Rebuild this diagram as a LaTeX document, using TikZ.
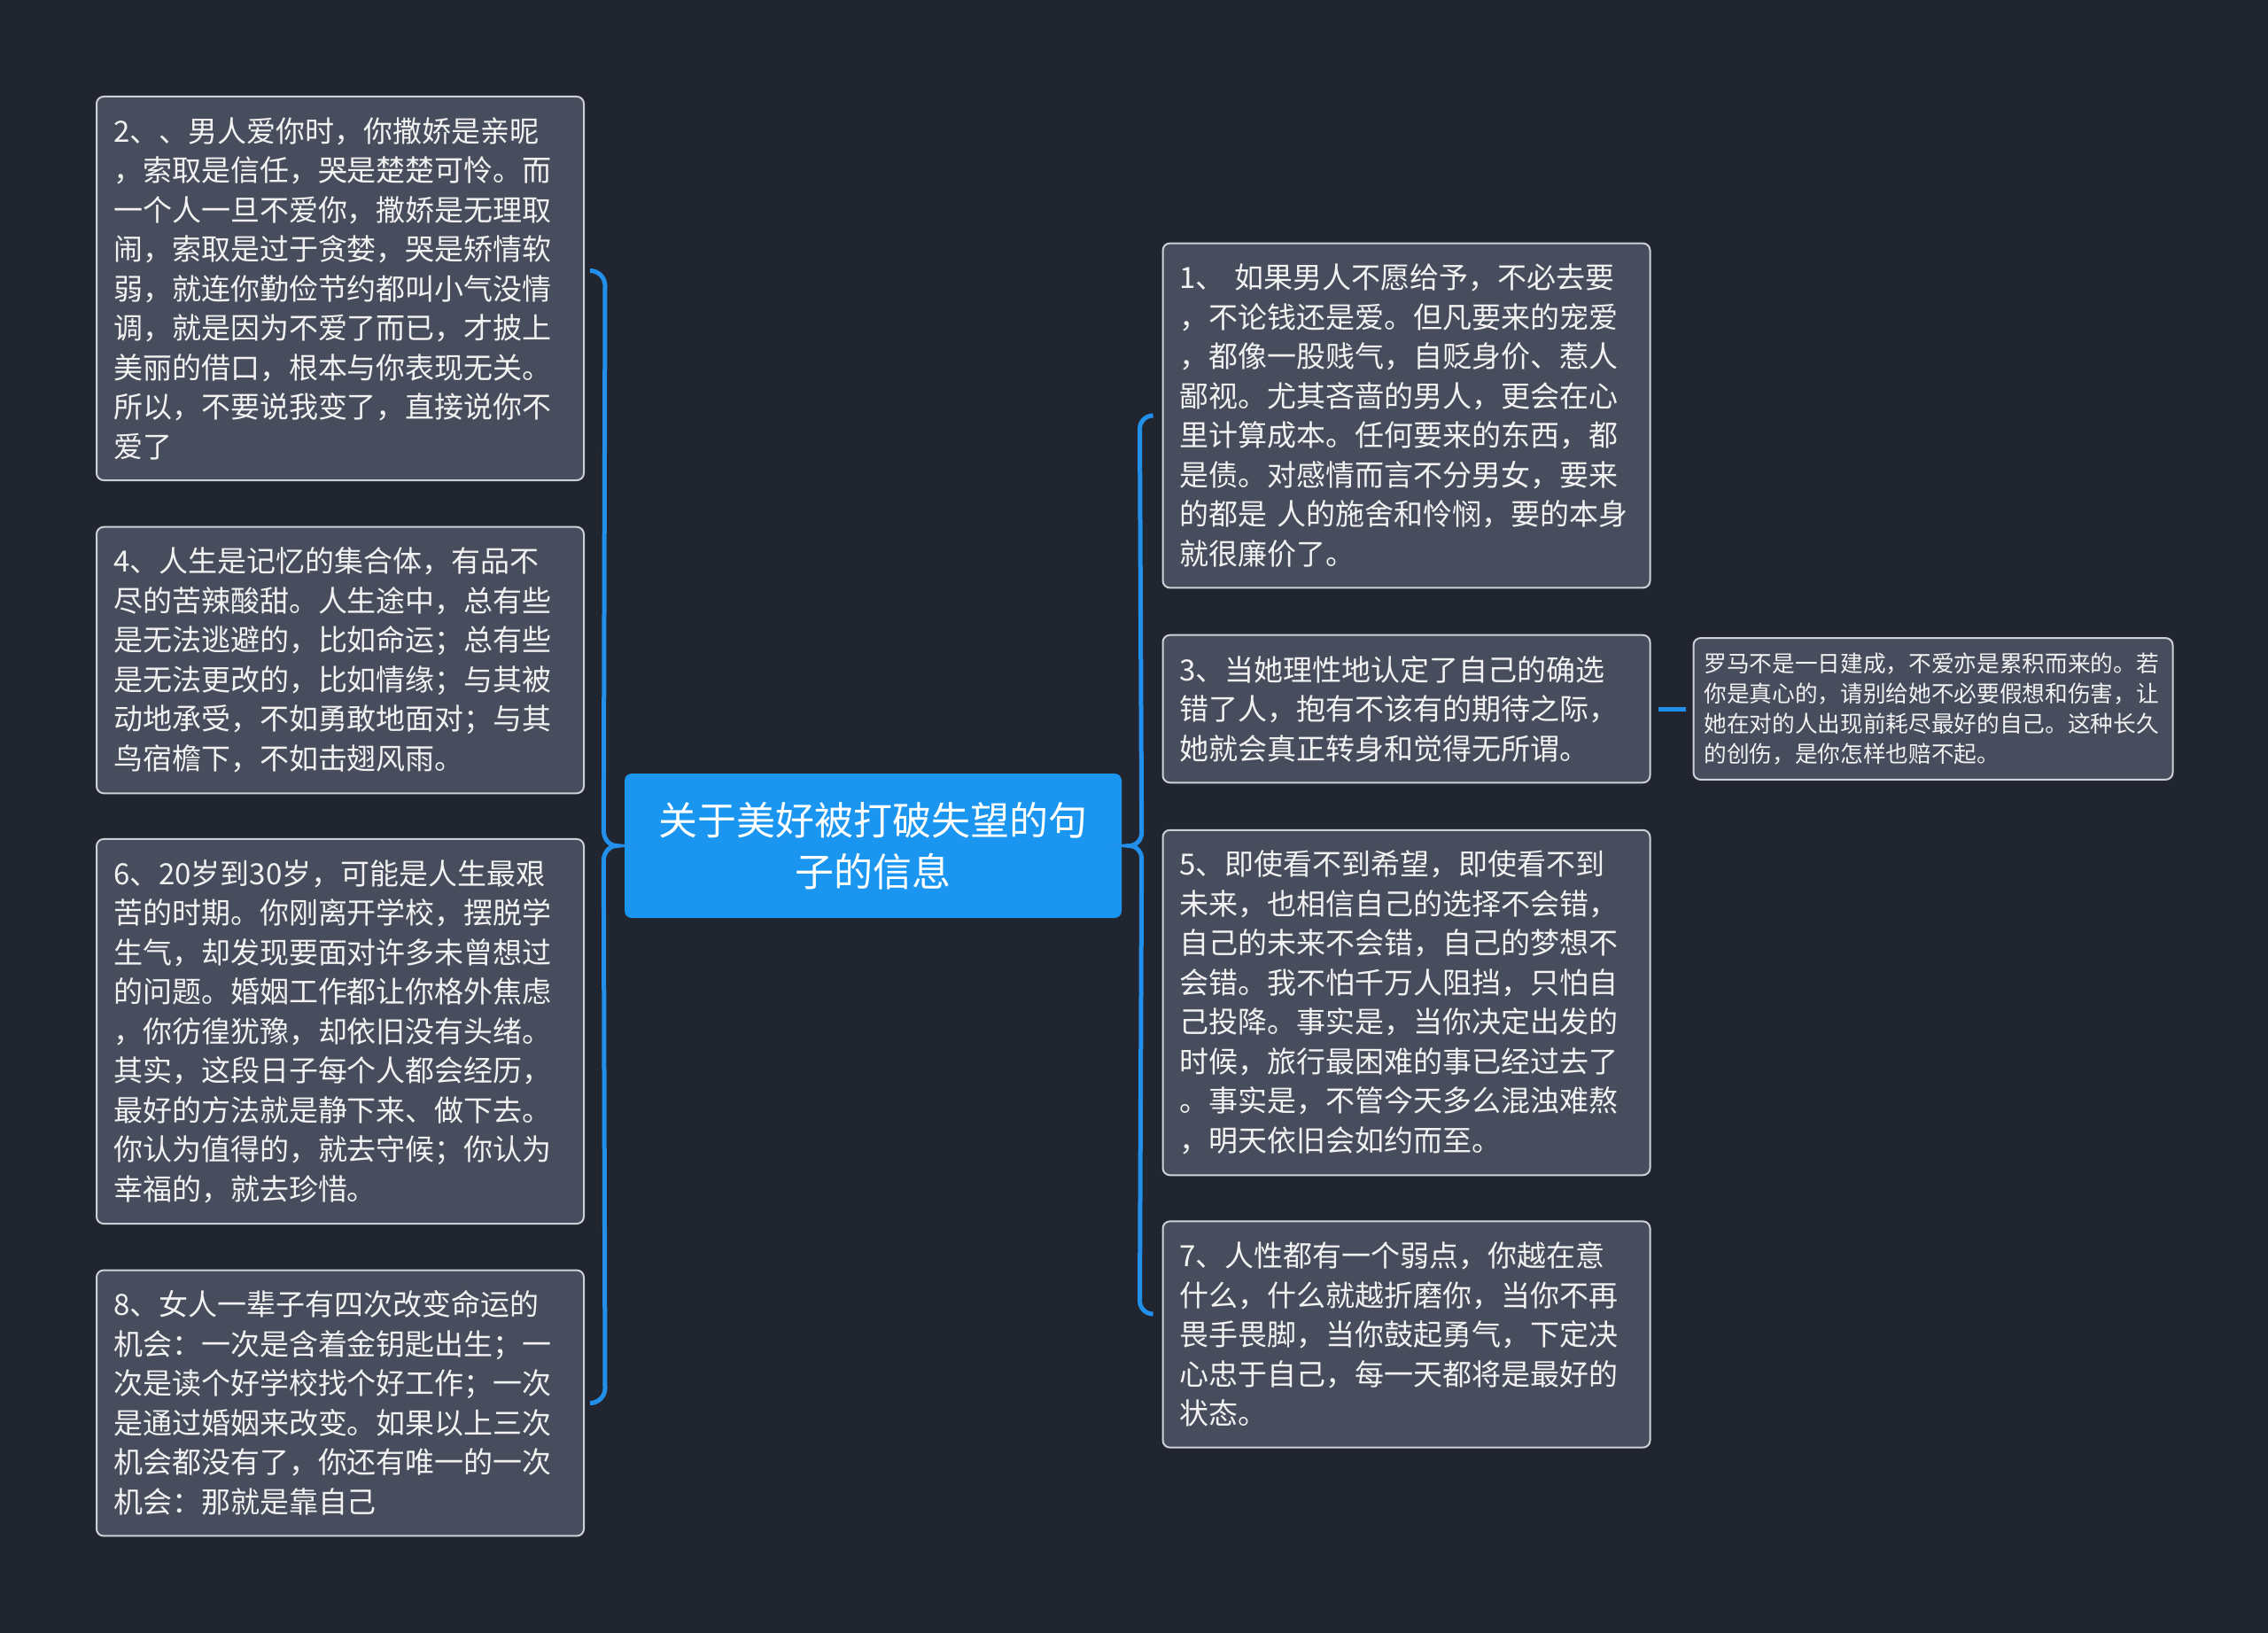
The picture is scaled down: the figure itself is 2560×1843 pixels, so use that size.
\documentclass[tikz,border=0pt]{standalone}
\usepackage{fontspec}
\setmainfont{Noto Sans CJK SC}
\usepackage{xcolor}
\usepackage{tikz}
\usetikzlibrary{positioning,calc}
\definecolor{bgdark}{RGB}{33,37,48}
\definecolor{leafgray}{RGB}{71,77,92}
\definecolor{leafedge}{RGB}{205,208,214}
\definecolor{topicblue}{RGB}{26,150,240}
\definecolor{braceblue}{RGB}{34,144,234}
\definecolor{textwhite}{RGB}{242,242,242}
\tikzset{
  topicbox/.style={fill=topicblue, rounded corners=2.4pt,
    minimum width=168.3pt, minimum height=48.9pt, text width=152pt,
    align=center, text=white, font=\fontsize{13.2}{17.4}\selectfont},
  leafbox/.style={draw=leafedge, line width=0.6pt, fill=leafgray, rounded corners=2.4pt,
    text width=153.6pt, inner xsep=5.7pt, inner ysep=7pt, align=left,
    text=textwhite, font=\fontsize{9.9}{13.35}\selectfont},
  notebox/.style={leafbox, text width=155.1pt, inner xsep=3.6pt, inner ysep=5pt,
    font=\fontsize{7.7}{10.2}\selectfont},
  brace/.style={draw=braceblue, line width=1.5pt},
  link/.style={draw=braceblue, line width=1.5pt, shorten <=2.4pt, shorten >=2.4pt}
}

\begin{document}
\begin{tikzpicture}[x=0.3pt, y=-0.3pt, node distance=14.1pt]
\fill[bgdark] (0,0) rectangle (2560,1843);

\node[topicbox] (topic) at (985.5,954.5) {关于美好被打破失望的句\\子的信息};

% left side
\node[leafbox] (b2) at (384,325.5) {2、、男人爱你时，你撒娇是亲昵\\，索取是信任，哭是楚楚可怜。而\\一个人一旦不爱你，撒娇是无理取\\闹，索取是过于贪婪，哭是矫情软\\弱，就连你勤俭节约都叫小气没情\\调，就是因为不爱了而已，才披上\\美丽的借口，根本与你表现无关。\\所以，不要说我变了，直接说你不\\爱了};
\node[leafbox] (b4) at (384,745) {4、人生是记忆的集合体，有品不\\尽的苦辣酸甜。人生途中，总有些\\是无法逃避的，比如命运；总有些\\是无法更改的，比如情缘；与其被\\动地承受，不如勇敢地面对；与其\\鸟宿檐下，不如击翅风雨。};
\node[leafbox] (b6) at (384,1164) {6、20岁到30岁，可能是人生最艰\\苦的时期。你刚离开学校，摆脱学\\生气，却发现要面对许多未曾想过\\的问题。婚姻工作都让你格外焦虑\\，你彷徨犹豫，却依旧没有头绪。\\其实，这段日子每个人都会经历，\\最好的方法就是静下来、做下去。\\你认为值得的，就去守候；你认为\\幸福的，就去珍惜。};
\node[leafbox] (b8) at (384,1583.5) {8、女人一辈子有四次改变命运的\\机会：一次是含着金钥匙出生；一\\次是读个好学校找个好工作；一次\\是通过婚姻来改变。如果以上三次\\机会都没有了，你还有唯一的一次\\机会：那就是靠自己};

% right side
\node[leafbox] (b1) at (1587.5,469) {1、 如果男人不愿给予，不必去要\\，不论钱还是爱。但凡要来的宠爱\\，都像一股贱气，自贬身价、惹人\\鄙视。尤其吝啬的男人，更会在心\\里计算成本。任何要来的东西，都\\是债。对感情而言不分男女，要来\\的都是 人的施舍和怜悯，要的本身\\就很廉价了。};
\node[leafbox] (b3) at (1587.5,800) {3、当她理性地认定了自己的确选\\错了人，抱有不该有的期待之际，\\她就会真正转身和觉得无所谓。};
\node[leafbox] (b5) at (1587.5,1131.5) {5、即使看不到希望，即使看不到\\未来，也相信自己的选择不会错，\\自己的未来不会错，自己的梦想不\\会错。我不怕千万人阻挡，只怕自\\己投降。事实是，当你决定出发的\\时候，旅行最困难的事已经过去了\\。事实是，不管今天多么混浊难熬\\，明天依旧会如约而至。};
\node[leafbox] (b7) at (1587.5,1506) {7、人性都有一个弱点，你越在意\\什么，什么就越折磨你，当你不再\\畏手畏脚，当你鼓起勇气，下定决\\心忠于自己，每一天都将是最好的\\状态。};
\node[notebox, right=of b3] (note) {罗马不是一日建成，不爱亦是累积而来的。若\\你是真心的，请别给她不必要假想和伤害，让\\她在对的人出现前耗尽最好的自己。这种长久\\的创伤，是你怎样也赔不起。};

% braces
\draw[brace] ($(b2.east)+(6,-20)$) to[out=0,in=90] ++(17,17)
  -- ($(topic.west)+(-23,-17)$) to[out=-90,in=180] ++(15,17)
  to[out=180,in=90] ++(-15,17)
  -- ($(b8.east)+(23,-17)$) to[out=-90,in=0] ++(-17,17);
\draw[brace] ($(b1.west)+(-10,0)$) to[out=180,in=90] ++(-15,15)
  -- ($(topic.east)+(22,-15)$) to[out=-90,in=0] ++(-14,15)
  to[out=0,in=90] ++(14,15)
  -- ($(b7.west)+(-25,-38)$) to[out=-90,in=180] ++(15,15);
\draw[link] (b3) -- (note);
\end{tikzpicture}
\end{document}
